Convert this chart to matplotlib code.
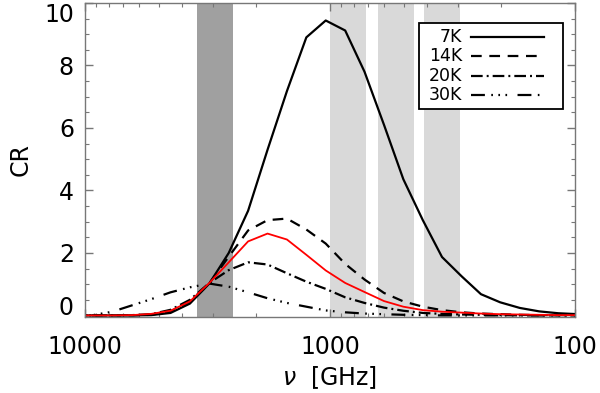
import matplotlib
matplotlib.use("Agg")
import matplotlib.pyplot as plt
from matplotlib.patches import Rectangle
from matplotlib.ticker import FixedLocator, LogLocator, NullFormatter, MultipleLocator

plt.rcParams['font.family'] = ['DejaVu Sans']
plt.rcParams['lines.scale_dashes'] = False

# Frequencies (GHz) of the model grid
freq = [11138, 9282, 7735, 6446, 5372, 4476, 3730, 3108, 2590, 2159, 1799, 1499,
        1249, 1041, 867, 723, 602, 502, 418, 349, 290, 242, 202, 168, 140, 117, 97]

cr_7k = [0.0, 0.0, 0.0, 0.0, 0.01, 0.08, 0.38, 1.02, 2.0, 3.35, 5.3, 7.18,
         8.9, 9.44, 9.12, 7.8, 6.1, 4.36, 3.05, 1.87, 1.25, 0.68, 0.42, 0.24, 0.13, 0.07, 0.04]
cr_14k = [0.0, 0.0, 0.0, 0.0, 0.02, 0.13, 0.45, 1.03, 1.88, 2.72, 3.05, 3.1,
          2.75, 2.3, 1.65, 1.15, 0.72, 0.45, 0.28, 0.17, 0.1, 0.06, 0.04, 0.02, 0.01, 0.01, 0.0]
cr_20k = [0.0, 0.0, 0.0, 0.01, 0.04, 0.18, 0.5, 1.04, 1.45, 1.7, 1.63, 1.35,
          1.08, 0.85, 0.58, 0.4, 0.25, 0.15, 0.08, 0.05, 0.03, 0.02, 0.01, 0.0, 0.0, 0.0, 0.0]
cr_30k = [0.0, 0.01, 0.12, 0.32, 0.52, 0.74, 0.9, 1.02, 0.92, 0.74, 0.55, 0.4,
          0.28, 0.16, 0.1, 0.06, 0.04, 0.02, 0.01, 0.0, 0.0, 0.0, 0.0, 0.0, 0.0, 0.0, 0.0]
cr_red = [0.0, 0.0, 0.0, 0.01, 0.05, 0.15, 0.45, 1.04, 1.7, 2.37, 2.62, 2.43,
          1.94, 1.44, 1.04, 0.75, 0.46, 0.28, 0.17, 0.12, 0.09, 0.06, 0.04, 0.03, 0.02, 0.01, 0.01]

labels = ['7K', '14K', '20K', '30K']

dark_band = (2500, 3490)
light_bands = [(715, 1000), (456, 637), (294, 413)]

xticks = [10000, 1000, 100]
xticklabels = ['10000', '1000', '100']
yticks = [0, 2, 4, 6, 8, 10]

fig = plt.figure(figsize=(6.0, 3.93), dpi=100)
ax = fig.add_axes([85/600, 1-317/393, 490/600, 314/393])

ax.axvspan(dark_band[0], dark_band[1], color='#a0a0a0', lw=0, zorder=0)
for lo, hi in light_bands:
    ax.axvspan(lo, hi, color='#d9d9d9', lw=0, zorder=0)

lw = 1.6
styles = ['-', (0, (7.7, 5.5)), (0, (8.4, 2.9, 1.4, 2.9)),
          (0, (10, 4.6, 1.2, 3.9, 1.2, 3.9, 1.2, 7.5))]
for series, st in zip([cr_7k, cr_14k, cr_20k, cr_30k], styles):
    ax.plot(freq, series, color='black', lw=lw, ls=st)
ax.plot(freq, cr_red, color='red', lw=1.3)

ax.set_xscale('log')
ax.set_xlim(10000, 100)
ax.set_ylim(-0.05, 10)

ax.xaxis.set_major_locator(FixedLocator(xticks))
ax.set_xticklabels(xticklabels)
ax.xaxis.set_minor_locator(LogLocator(base=10, subs=range(2, 10)))
ax.xaxis.set_minor_formatter(NullFormatter())
ax.yaxis.set_major_locator(FixedLocator(yticks))
ax.yaxis.set_minor_locator(MultipleLocator(0.5))

spine_col = '#777777'
for s in ax.spines.values():
    s.set_color(spine_col)
    s.set_linewidth(1.0)
ax.tick_params(which='both', direction='in', top=True, right=True, color=spine_col,
               labelsize=17, labelcolor='black')
ax.tick_params(which='major', length=6, width=1.0)
ax.tick_params(which='minor', length=3, width=0.8)
ax.tick_params(axis='x', which='major', pad=13)
ax.tick_params(axis='y', which='major', pad=8)

ax.set_xlabel(r'$\nu$  [GHz]', fontsize=17, labelpad=4)
ax.set_ylabel('CR', fontsize=17, labelpad=8)

fig.canvas.draw()
yt = ax.yaxis.get_major_ticks()
yt[0].label1.set_verticalalignment('baseline')
yt[-1].label1.set_verticalalignment('top')

# Legend drawn in axes coordinates
box = Rectangle((0.6816, 0.6624), 0.9755 - 0.6816, 0.9363 - 0.6624,
                transform=ax.transAxes, facecolor='white', edgecolor='black',
                lw=1.3, zorder=5)
ax.add_patch(box)
row_y = [0.8927, 0.8312, 0.7675, 0.7070]
for lab, st, yy in zip(labels, styles, row_y):
    ax.text(0.7694, yy, lab, transform=ax.transAxes, ha='right', va='center',
            fontsize=12.5, zorder=6)
    ax.plot([0.7878, 0.9367], [yy, yy], transform=ax.transAxes, color='black',
            lw=lw, ls=st, zorder=6)

fig.savefig('out.png', dpi=100)
